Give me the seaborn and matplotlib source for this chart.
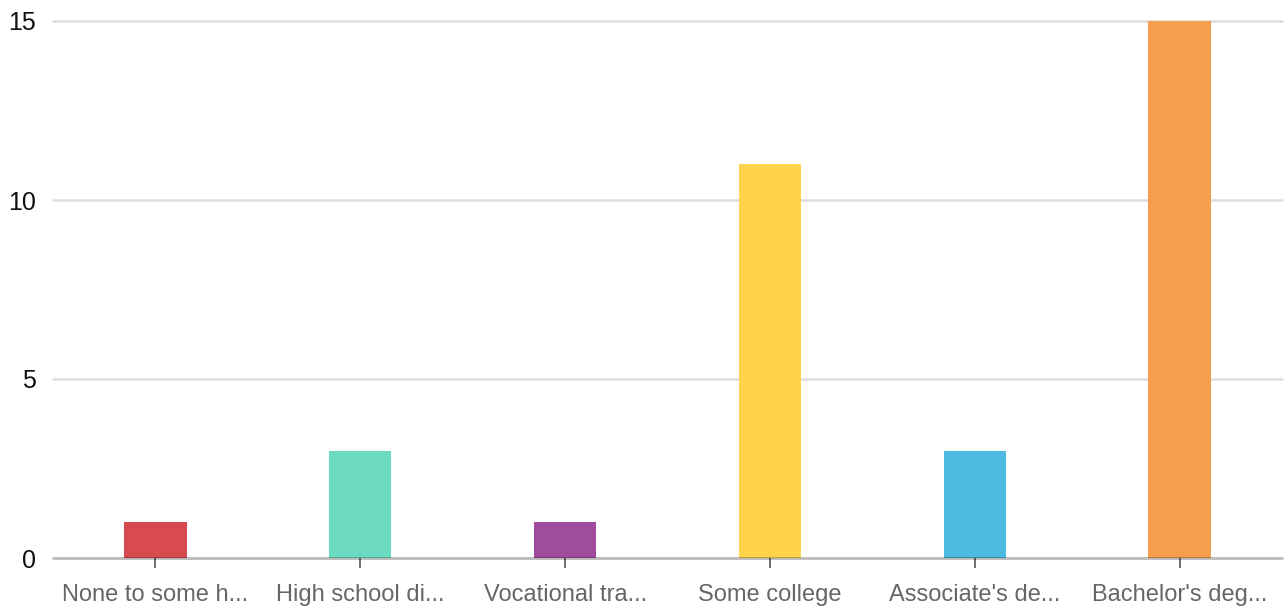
import pandas as pd
import matplotlib.pyplot as plt
import seaborn as sns

categories = ["None to some h...", "High school di...", "Vocational tra...",
              "Some college", "Associate's de...", "Bachelor's deg..."]
counts = [1, 3, 1, 11, 3, 15]
bar_colors = ["#d74b4e", "#6cd9c1", "#a04c9e", "#ffd44c", "#4dbbe1", "#f59f4e"]
y_ticks = [0, 5, 10, 15]

df = pd.DataFrame({"category": categories, "count": counts})

sns.set_style("white")
plt.rcParams["font.family"] = ["Liberation Sans", "DejaVu Sans"]

fig = plt.figure(figsize=(12.86, 6.13), dpi=100)
ax = fig.add_axes([53 / 1286, 55 / 613, 1229 / 1286, 537 / 613])

sns.barplot(data=df, x="category", y="count", hue="category",
            palette=bar_colors, legend=False, width=0.305, saturation=1,
            linewidth=0, ax=ax, zorder=2)

ax.set_ylim(0, 15)
ax.set_xlim(-0.5, len(categories) - 0.5)
ax.set_yticks(y_ticks)
for t in y_ticks[1:]:
    ax.axhline(t, color="#dddddd", lw=1.8, zorder=1, clip_on=False)
# baseline drawn over bars, semi-transparent
ax.axhline(0, color="black", alpha=0.27, lw=2, zorder=3, clip_on=False)

for s in ax.spines.values():
    s.set_visible(False)

ax.tick_params(axis="x", bottom=True, length=7, width=1.2, color="#555555",
               pad=12, labelsize=17, labelcolor="#666666")
ax.tick_params(axis="y", left=False, length=0, pad=12, labelsize=18,
               labelcolor="#111111")
ax.set_xlabel("")
ax.set_ylabel("")

fig.savefig("out.png", dpi=100)
